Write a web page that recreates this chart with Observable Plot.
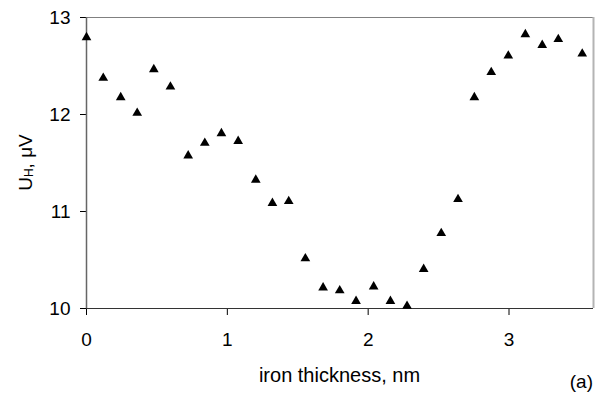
<!DOCTYPE html>
<html>
<head>
<meta charset="utf-8">
<script src="https://cdn.jsdelivr.net/npm/d3@7"></script>
<script src="https://cdn.jsdelivr.net/npm/@observablehq/plot@0.6"></script>
<style>
  html, body { margin: 0; padding: 0; background: #fff; }
  #chart svg { display: block; }
</style>
</head>
<body>
<div id="chart"></div>
<script>
// Iron thickness (nm)
const thickness = [0, 0.119, 0.243, 0.360, 0.478, 0.596, 0.722, 0.840, 0.958, 1.077,
  1.202, 1.320, 1.436, 1.554, 1.680, 1.798, 1.914, 2.039, 2.158, 2.276,
  2.394, 2.519, 2.638, 2.754, 2.874, 2.995, 3.116, 3.236, 3.350, 3.520];
// Hall voltage U_H (µV)
const voltage = [12.81, 12.39, 12.19, 12.03, 12.48, 12.30, 11.59, 11.72, 11.82, 11.74,
  11.34, 11.10, 11.12, 10.53, 10.23, 10.20, 10.09, 10.24, 10.09, 10.04,
  10.42, 10.79, 11.14, 12.19, 12.45, 12.62, 12.84, 12.73, 12.79, 12.64];
const xTicks = [0, 1, 2, 3];
const yTicks = [10, 11, 12, 13];
const xLabel = "iron thickness, nm";
const panelTag = "(a)";

const data = thickness.map((x, i) => ({x, y: voltage[i]}));
const font = "Arial, 'Liberation Sans', sans-serif";

const chart = Plot.plot({
  width: 603,
  height: 394,
  marginTop: 17,
  marginBottom: 86,
  marginLeft: 86,
  marginRight: 10,
  style: {fontFamily: font, fontSize: "19px", color: "#000", background: "#fff", overflow: "visible"},
  x: {domain: [0, 3.6], ticks: xTicks, tickSize: 7, tickPadding: 16.5, label: null, tickFormat: d => String(d)},
  y: {domain: [10, 13], ticks: yTicks, tickSize: 6, tickPadding: 10, label: null, tickFormat: d => String(d)},
  marks: [
    Plot.ruleY([13], {stroke: "#808080", strokeWidth: 1}),
    Plot.ruleX([3.6], {stroke: "#b4b4b4", strokeWidth: 2}),
    Plot.ruleX([0], {stroke: "#666", strokeWidth: 1.5}),
    Plot.ruleY([10], {stroke: "#333", strokeWidth: 1.2}),
    Plot.dot(data, {x: "x", y: "y", symbol: "triangle", r: 3.6, fill: "#000", stroke: "none", dy: 1.4})
  ]
});
document.getElementById("chart").appendChild(chart);

const svg = d3.select(chart);
const xs = chart.scale("x"), ys = chart.scale("y");
const [x0, x1] = xs.range;
const [y0, y1] = ys.range;

svg.append("text")
  .attr("x", (x0 + x1) / 2).attr("y", 382)
  .attr("text-anchor", "middle")
  .attr("font-family", font).attr("font-size", 20).attr("fill", "#000")
  .text(xLabel);

svg.append("text")
  .attr("x", x1).attr("y", 388)
  .attr("text-anchor", "end")
  .attr("font-family", font).attr("font-size", 19).attr("fill", "#000")
  .text(panelTag);

const yl = svg.append("text")
  .attr("transform", `translate(32,${(y0 + y1) / 2}) rotate(-90)`)
  .attr("text-anchor", "middle")
  .attr("font-family", font).attr("font-size", 19).attr("fill", "#000");
yl.append("tspan").text("U");
yl.append("tspan").attr("font-size", 12).attr("dy", 1).text("H");
yl.append("tspan").attr("dy", -1).text(", \u03BCV");
</script>
</body>
</html>
